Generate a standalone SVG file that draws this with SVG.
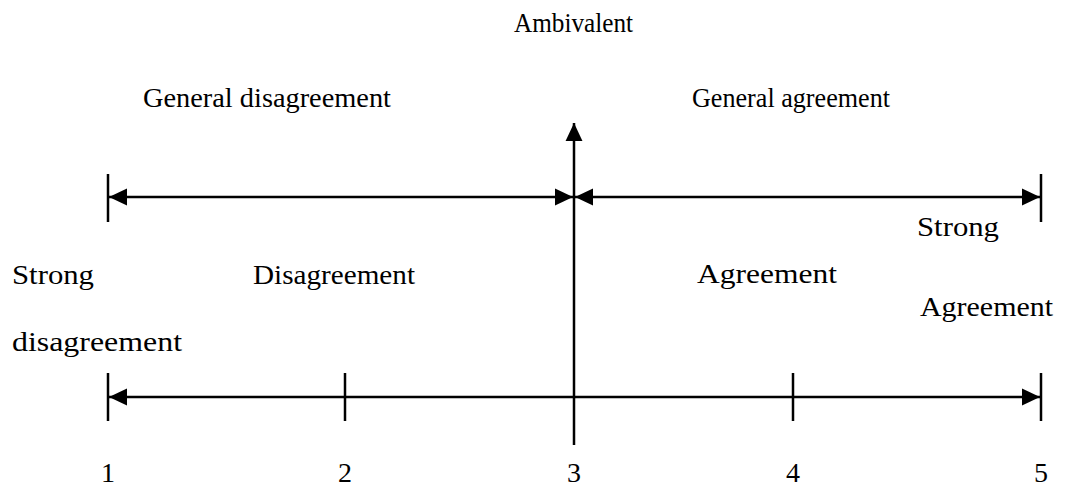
<svg xmlns="http://www.w3.org/2000/svg" width="1066" height="488" viewBox="0 0 1066 488">
<style>
.t{font-family:"Liberation Serif","Times New Roman",serif;font-size:28px;fill:#000}
.ln{stroke:#000;stroke-width:2.5;fill:none}
</style>
<defs>
<marker id="ah" markerUnits="userSpaceOnUse" markerWidth="18" markerHeight="18" viewBox="0 0 16 16" refX="16" refY="8" orient="auto-start-reverse">
<path d="M0,0.5 L16,8 L0,15.5 Z" fill="#000"/>
</marker>
</defs>
<rect width="1066" height="488" fill="#fff"/>
<g id="connectors">
<line class="ln" x1="108" y1="174" x2="108" y2="222"/>
<line class="ln" x1="1041" y1="174" x2="1041" y2="222"/>
<line class="ln" x1="109" y1="197" x2="573" y2="197" marker-start="url(#ah)" marker-end="url(#ah)"/>
<line class="ln" x1="575" y1="197" x2="1040" y2="197" marker-start="url(#ah)" marker-end="url(#ah)"/>
<line class="ln" x1="574" y1="445" x2="574" y2="123" marker-end="url(#ah)"/>
<line class="ln" x1="109" y1="397" x2="1040" y2="397" marker-start="url(#ah)" marker-end="url(#ah)"/>
<line class="ln" x1="108" y1="373" x2="108" y2="421"/>
<line class="ln" x1="345" y1="373" x2="345" y2="421"/>
<line class="ln" x1="793" y1="373" x2="793" y2="421"/>
<line class="ln" x1="1041" y1="373" x2="1041" y2="421"/>
</g>
<g id="label-ambivalent"><text class="t" x="514" y="32" textLength="119" lengthAdjust="spacingAndGlyphs">Ambivalent</text></g>
<g id="label-general-disagreement"><text class="t" x="143" y="107" textLength="248" lengthAdjust="spacingAndGlyphs">General disagreement</text></g>
<g id="label-general-agreement"><text class="t" x="692" y="107" textLength="198" lengthAdjust="spacingAndGlyphs">General agreement</text></g>
<g id="label-strong-disagreement">
<text class="t" x="12" y="284" textLength="82" lengthAdjust="spacingAndGlyphs">Strong</text>
<text class="t" x="12" y="351" textLength="170" lengthAdjust="spacingAndGlyphs">disagreement</text>
</g>
<g id="label-disagreement"><text class="t" x="253" y="284" textLength="162" lengthAdjust="spacingAndGlyphs">Disagreement</text></g>
<g id="label-agreement"><text class="t" x="697" y="283" textLength="140" lengthAdjust="spacingAndGlyphs">Agreement</text></g>
<g id="label-strong-agreement">
<text class="t" x="917" y="236" textLength="82" lengthAdjust="spacingAndGlyphs">Strong</text>
<text class="t" x="920" y="316" textLength="133" lengthAdjust="spacingAndGlyphs">Agreement</text>
</g>
<g id="numbers">
<text class="t" x="108" y="482" text-anchor="middle">1</text>
<text class="t" x="345" y="482" text-anchor="middle">2</text>
<text class="t" x="574" y="482" text-anchor="middle">3</text>
<text class="t" x="793" y="482" text-anchor="middle">4</text>
<text class="t" x="1041" y="482" text-anchor="middle">5</text>
</g>
</svg>
